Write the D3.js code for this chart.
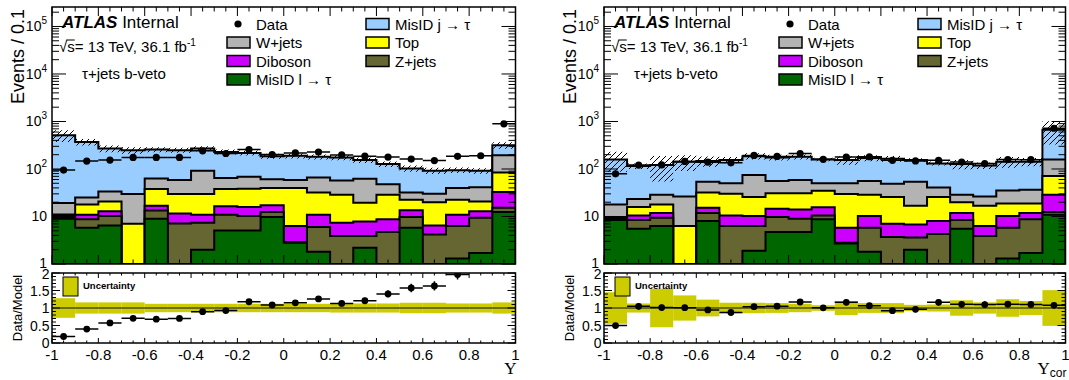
<!DOCTYPE html>
<html>
<head>
<meta charset="utf-8">
<script src="https://cdn.jsdelivr.net/npm/d3@7"></script>
<style>
  body { margin: 0; background: #fff; }
  text { font-family: "Liberation Sans", Arial, sans-serif; fill: #000; }
</style>
</head>
<body>
<svg id="chart" width="1069" height="380"></svg>
<script>
// 20 bins of width 0.1 between -1 and 1
var binEdges = d3.range(21).map(function(i) { return Math.round((-1 + 0.1 * i) * 10) / 10; });
var xTicks = [-1, -0.8, -0.6, -0.4, -0.2, 0, 0.2, 0.4, 0.6, 0.8, 1];
var xTickLabels = ["-1", "-0.8", "-0.6", "-0.4", "-0.2", "0", "0.2", "0.4", "0.6", "0.8", "1"];
var logTicks = [1, 10, 100, 1000, 10000, 100000];
var logTickLabels = [["1", ""], ["10", ""], ["10", "2"], ["10", "3"], ["10", "4"], ["10", "5"]];
var ratioTicks = [0, 0.5, 1, 1.5, 2];
var ratioTickLabels = ["0", "0.5", "1", "1.5", "2"];

// stack order, bottom to top
var sampleNames = ["MisID l \u2192 \u03c4", "Z+jets", "Diboson", "Top", "W+jets", "MisID j \u2192 \u03c4"];
var sampleColors = ["#006600", "#666633", "#cc00ff", "#ffff00", "#b3b3b3", "#99ccff"];

// left panel: Y
var leftMisIDl  = [9.0, 5.8, 6.5, 0.6, 9.0, 0.5, 2.0, 5.1, 5.1, 9.8, 2.8, 1.8, 0.5, 2.2, 0.5, 5.8, 0.5, 1.3, 1.7, 12.5];
var leftZjets   = [0.5, 2.9, 3.7, 0.2, 4.3, 6.6, 5.4, 5.8, 5.1, 2.7, 0.1, 4.2, 3.4, 1.7, 4.2, 4.0, 3.7, 5.0, 7.7, 2.7];
var leftDiboson = [0.7, 2.2, 2.7, 0.1, 3.6, 4.4, 3.5, 5.5, 5.7, 4.7, 3.4, 4.9, 3.5, 3.9, 4.0, 3.7, 2.3, 4.6, 3.5, 17.5];
var leftTop     = [0.8, 6.9, 7.9, 6.1, 20.9, 18.2, 18.8, 21.4, 22.4, 22.4, 33.3, 21.1, 21.3, 11.6, 20.0, 9.1, 13.4, 11.7, 7.9, 51.3];
var leftWjets   = [8.3, 7.4, 12.9, 22.7, 25.1, 29.3, 62.3, 27.2, 30.7, 21.4, 19.4, 34.0, 28.3, 42.7, 19.3, 9.4, 10.1, 17.0, 20.7, 111];
var leftMisIDj  = [492, 345, 235, 219, 194, 190, 177, 164, 149, 125, 131, 115, 118, 92, 79, 71, 62, 55, 50, 121];
var leftData    = [95, 147, 154, 175, 175, 175, 241, 212, 257, 202, 218, 228, 198, 186, 178, 162, 150, 185, 190, 894];
var leftUnc     = [0.28, 0.16, 0.16, 0.16, 0.12, 0.12, 0.12, 0.12, 0.12, 0.12, 0.12, 0.12, 0.13, 0.13, 0.13, 0.15, 0.15, 0.13, 0.13, 0.16];

// right panel: Y_cor
var rightMisIDl  = [8.4, 5.5, 6.3, 0.6, 8.0, 0.5, 1.9, 4.7, 4.7, 8.7, 2.7, 1.8, 0.5, 2.0, 0.5, 5.5, 0.5, 1.3, 1.7, 10.9];
var rightZjets   = [0.5, 2.9, 3.1, 0.2, 3.9, 5.8, 4.4, 5.0, 4.3, 1.8, 0.1, 4.0, 3.2, 1.6, 3.8, 2.9, 3.4, 4.5, 7.0, 1.6];
var rightDiboson = [0.4, 2.1, 2.5, 0.1, 3.3, 4.2, 3.9, 4.8, 5.0, 5.1, 3.0, 4.4, 3.3, 3.2, 3.7, 3.5, 2.4, 4.4, 3.2, 16.2];
var rightTop     = [0.5, 5.4, 5.9, 5.4, 16.8, 19.5, 15.5, 16.5, 17.0, 19.2, 23.9, 18.5, 18.7, 10.1, 17.7, 8.0, 10.6, 8.5, 6.8, 42.3];
var rightWjets   = [8.0, 7.5, 10.9, 20.2, 22.0, 20.0, 49.3, 25.0, 28.0, 15.2, 20.3, 27.3, 23.0, 37.1, 15.1, 8.8, 9.6, 16.6, 17.8, 88];
var rightMisIDj  = [141, 92, 92, 116, 93, 105, 111, 119, 122, 109, 104, 114, 116, 100, 90, 98, 92, 107, 106, 511];
var rightData    = [79, 121, 122, 144, 139, 135, 193, 184, 212, 160, 179, 181, 152, 148, 152, 140, 130, 158, 157, 721];
var rightUnc     = [0.45, 0.13, 0.55, 0.36, 0.24, 0.15, 0.15, 0.14, 0.12, 0.08, 0.2, 0.14, 0.14, 0.09, 0.1, 0.22, 0.16, 0.25, 0.2, 0.51];

var svg = d3.select("#chart");
var defs = svg.append("defs");
defs.append("pattern")
  .attr("id", "hatch")
  .attr("patternUnits", "userSpaceOnUse")
  .attr("width", 6).attr("height", 6)
  .append("path")
  .attr("d", "M0,6L6,0M-1,1L1,-1M5,7L7,5")
  .attr("stroke", "#000").attr("stroke-width", 1);

// main pad and ratio pad vertical layout
var mainTop = 7, mainBottom = 264, ratioTop = 273, ratioBottom = 343;

function steps(vals) {
  var pts = [];
  vals.forEach(function(v, i) { pts.push([binEdges[i], v]); pts.push([binEdges[i + 1], v]); });
  return pts;
}

function drawPanel(p) {
  var x = d3.scaleLinear().domain([-1, 1]).range([p.left, p.right]);
  var y = d3.scaleLog().domain([1, 2.57e5]).range([mainBottom, mainTop]);
  var yr = d3.scaleLinear().domain([0, 2]).range([ratioBottom, ratioTop]);
  var g = svg.append("g");

  defs.append("clipPath").attr("id", "clipMain" + p.id)
    .append("rect").attr("x", p.left).attr("y", mainTop)
    .attr("width", p.right - p.left).attr("height", mainBottom - mainTop);
  defs.append("clipPath").attr("id", "clipRatio" + p.id)
    .append("rect").attr("x", p.left).attr("y", ratioTop)
    .attr("width", p.right - p.left).attr("height", ratioBottom - ratioTop);

  // cumulative stack
  var cum = [];
  var run = p.samples[0].map(function() { return 0; });
  p.samples.forEach(function(s) {
    run = run.map(function(v, i) { return v + s[i]; });
    cum.push(run);
  });
  var total = cum[cum.length - 1];

  var gm = g.append("g").attr("clip-path", "url(#clipMain" + p.id + ")");
  var area = d3.area()
    .x(function(d) { return x(d[0]); })
    .y0(y(1))
    .y1(function(d) { return y(Math.max(d[1], 0.3)); });

  for (var k = cum.length - 1; k >= 0; k--) {
    gm.append("path")
      .attr("d", area(steps(cum[k])))
      .attr("fill", sampleColors[k])
      .attr("stroke", "#000")
      .attr("stroke-width", 2);
  }

  // hatched uncertainty band
  var band = d3.area()
    .x(function(d) { return x(d[0]); })
    .y0(function(d) { return y(d[1] * (1 - d[2])); })
    .y1(function(d) { return y(d[1] * (1 + d[2])); });
  var bandPts = [];
  total.forEach(function(v, i) {
    bandPts.push([binEdges[i], v, p.unc[i]]);
    bandPts.push([binEdges[i + 1], v, p.unc[i]]);
  });
  gm.append("path").attr("d", band(bandPts)).attr("fill", "url(#hatch)");

  // data
  p.data.forEach(function(d, i) {
    var xc = x((binEdges[i] + binEdges[i + 1]) / 2);
    gm.append("line")
      .attr("x1", x(binEdges[i])).attr("x2", x(binEdges[i + 1]))
      .attr("y1", y(d)).attr("y2", y(d))
      .attr("stroke", "#000").attr("stroke-width", 1.5);
    gm.append("line")
      .attr("x1", xc).attr("x2", xc)
      .attr("y1", y(d - Math.sqrt(d))).attr("y2", y(d + Math.sqrt(d)))
      .attr("stroke", "#000").attr("stroke-width", 1.5);
    gm.append("circle").attr("cx", xc).attr("cy", y(d)).attr("r", 3.6).attr("fill", "#000");
  });

  // ratio pad
  var gr = g.append("g").attr("clip-path", "url(#clipRatio" + p.id + ")");
  p.unc.forEach(function(u, i) {
    gr.append("rect")
      .attr("x", x(binEdges[i])).attr("width", x(binEdges[i + 1]) - x(binEdges[i]))
      .attr("y", yr(1 + u)).attr("height", yr(1 - u) - yr(1 + u))
      .attr("fill", "#cccc00");
  });
  gr.append("line")
    .attr("x1", p.left).attr("x2", p.right).attr("y1", yr(1)).attr("y2", yr(1))
    .attr("stroke", "#4d4d1a").attr("stroke-width", 1.5);
  p.data.forEach(function(d, i) {
    var r = d / total[i];
    if (r > 2) return;
    var e = Math.sqrt(d) / total[i];
    var xc = x((binEdges[i] + binEdges[i + 1]) / 2);
    gr.append("line")
      .attr("x1", x(binEdges[i])).attr("x2", x(binEdges[i + 1]))
      .attr("y1", yr(r)).attr("y2", yr(r))
      .attr("stroke", "#000").attr("stroke-width", 1.5);
    gr.append("line")
      .attr("x1", xc).attr("x2", xc).attr("y1", yr(r - e)).attr("y2", yr(r + e))
      .attr("stroke", "#000").attr("stroke-width", 1.5);
    gr.append("circle").attr("cx", xc).attr("cy", yr(r)).attr("r", 3.4).attr("fill", "#000");
  });

  // ticks
  var tk = g.append("g").attr("stroke", "#000").attr("stroke-width", 1);
  function hTick(yy, len) {
    tk.append("line").attr("x1", p.left).attr("x2", p.left + len).attr("y1", yy).attr("y2", yy);
    tk.append("line").attr("x1", p.right).attr("x2", p.right - len).attr("y1", yy).attr("y2", yy);
  }
  function vTick(xx, top, bottom, len) {
    tk.append("line").attr("x1", xx).attr("x2", xx).attr("y1", top).attr("y2", top + len);
    tk.append("line").attr("x1", xx).attr("x2", xx).attr("y1", bottom).attr("y2", bottom - len);
  }
  logTicks.forEach(function(t) {
    hTick(y(t), 14);
    for (var m = 2; m <= 9; m++) { if (t * m < 2.57e5) hTick(y(t * m), 7); }
  });
  d3.range(0, 2.001, 0.1).forEach(function(t) {
    var major = Math.abs(t * 2 - Math.round(t * 2)) < 1e-6;
    hTick(yr(t), major ? 8 : 4);
  });
  d3.range(-1, 1.001, 0.05).forEach(function(t) {
    var major = Math.abs(t * 5 - Math.round(t * 5)) < 1e-6;
    vTick(x(t), mainTop, mainBottom, major ? 9 : 4.5);
    vTick(x(t), ratioTop, ratioBottom, major ? 5 : 2.5);
  });

  // frames
  g.append("rect").attr("x", p.left).attr("y", mainTop)
    .attr("width", p.right - p.left).attr("height", mainBottom - mainTop)
    .attr("fill", "none").attr("stroke", "#000").attr("stroke-width", 1.5);
  g.append("rect").attr("x", p.left).attr("y", ratioTop)
    .attr("width", p.right - p.left).attr("height", ratioBottom - ratioTop)
    .attr("fill", "none").attr("stroke", "#000").attr("stroke-width", 1.5);

  // tick labels
  logTicks.forEach(function(t, i) {
    var tx = g.append("text").attr("x", p.left - 5).attr("y", t === 1 ? y(t) - 1.5 : y(t))
      .attr("text-anchor", "end").attr("dominant-baseline", "central")
      .attr("font-size", 14);
    tx.append("tspan").text(logTickLabels[i][0]);
    if (logTickLabels[i][1]) {
      tx.append("tspan").attr("dy", -6).attr("font-size", 10).text(logTickLabels[i][1]);
    }
  });
  ratioTicks.forEach(function(t, i) {
    g.append("text").attr("x", p.left - 2.5).attr("y", t === 2 ? yr(t) + 1 : yr(t))
      .attr("text-anchor", "end").attr("dominant-baseline", "central")
      .attr("font-size", 14).text(ratioTickLabels[i]);
  });
  xTicks.forEach(function(t, i) {
    g.append("text").attr("x", x(t)).attr("y", 360)
      .attr("text-anchor", "middle").attr("font-size", 15).text(xTickLabels[i]);
  });

  // axis titles
  g.append("text")
    .attr("transform", "translate(" + (p.left - 28) + ",9) rotate(-90)")
    .attr("text-anchor", "end").attr("font-size", 18).text("Events / 0.1");
  g.append("text")
    .attr("transform", "translate(" + (p.left - 30) + ",308) rotate(-90)")
    .attr("text-anchor", "middle").attr("font-size", 13).text("Data/Model");
  var xt = g.append("text").attr("x", p.right + 1).attr("y", 374).attr("text-anchor", "end");
  xt.append("tspan").attr("font-family", "Liberation Serif, Times New Roman, serif")
    .attr("font-size", 17).text("Y");
  if (p.xSub) {
    xt.append("tspan").attr("dy", 3).attr("font-size", 12).text(p.xSub);
  }

  // labels
  var atlas = g.append("text").attr("x", p.left + 10).attr("y", 28).attr("font-size", 17);
  atlas.append("tspan").attr("font-weight", "bold").attr("font-style", "italic").text("ATLAS");
  atlas.append("tspan").text(" Internal");

  var lum = g.append("text").attr("x", p.left + 7).attr("y", 52).attr("font-size", 15);
  lum.append("tspan").text("\u221as= 13 TeV, 36.1 fb");
  lum.append("tspan").attr("dy", -6).attr("font-size", 10).text("-1");
  var ln = lum.node();
  var s0 = ln.getStartPositionOfChar(1), s1 = ln.getEndPositionOfChar(1);
  g.append("line").attr("x1", s0.x - 1).attr("x2", s1.x)
    .attr("y1", 52 - 12).attr("y2", 52 - 12)
    .attr("stroke", "#000").attr("stroke-width", 1);

  g.append("text").attr("x", p.left + 30).attr("y", 79).attr("font-size", 15)
    .text("\u03c4+jets b-veto");

  // legend
  var rowY = [24, 42.5, 61, 79.5];
  var legCol1 = [null, 4, 2, 0];
  var legCol2 = [5, 3, 1];
  g.append("circle").attr("cx", p.left + 186).attr("cy", rowY[0]).attr("r", 3.6).attr("fill", "#000");
  g.append("text").attr("x", p.left + 204).attr("y", rowY[0]).attr("dominant-baseline", "central")
    .attr("font-size", 15).text("Data");
  function legBox(bx, tx, ry, k) {
    g.append("rect").attr("x", bx).attr("y", ry - 5.5).attr("width", 23).attr("height", 11)
      .attr("fill", sampleColors[k]).attr("stroke", "#000").attr("stroke-width", 1.5);
    g.append("text").attr("x", tx).attr("y", ry).attr("dominant-baseline", "central")
      .attr("font-size", 15).text(sampleNames[k]);
  }
  legCol1.forEach(function(k, r) { if (k !== null) legBox(p.left + 175, p.left + 204, rowY[r], k); });
  legCol2.forEach(function(k, r) { legBox(p.left + 314, p.left + 343, rowY[r], k); });

  g.append("rect").attr("x", p.left + 11).attr("y", 277).attr("width", 15).attr("height", 19)
    .attr("fill", "#cccc00").attr("stroke", "#000").attr("stroke-width", 1);
  g.append("text").attr("x", p.left + 31).attr("y", 289).attr("font-size", 9.5)
    .attr("font-weight", "bold").text("Uncertainty");
}

drawPanel({
  id: "L", left: 52, right: 515.5,
  samples: [leftMisIDl, leftZjets, leftDiboson, leftTop, leftWjets, leftMisIDj],
  data: leftData, unc: leftUnc, xSub: ""
});
drawPanel({
  id: "R", left: 604, right: 1065.5,
  samples: [rightMisIDl, rightZjets, rightDiboson, rightTop, rightWjets, rightMisIDj],
  data: rightData, unc: rightUnc, xSub: "cor"
});
</script>
</body>
</html>
